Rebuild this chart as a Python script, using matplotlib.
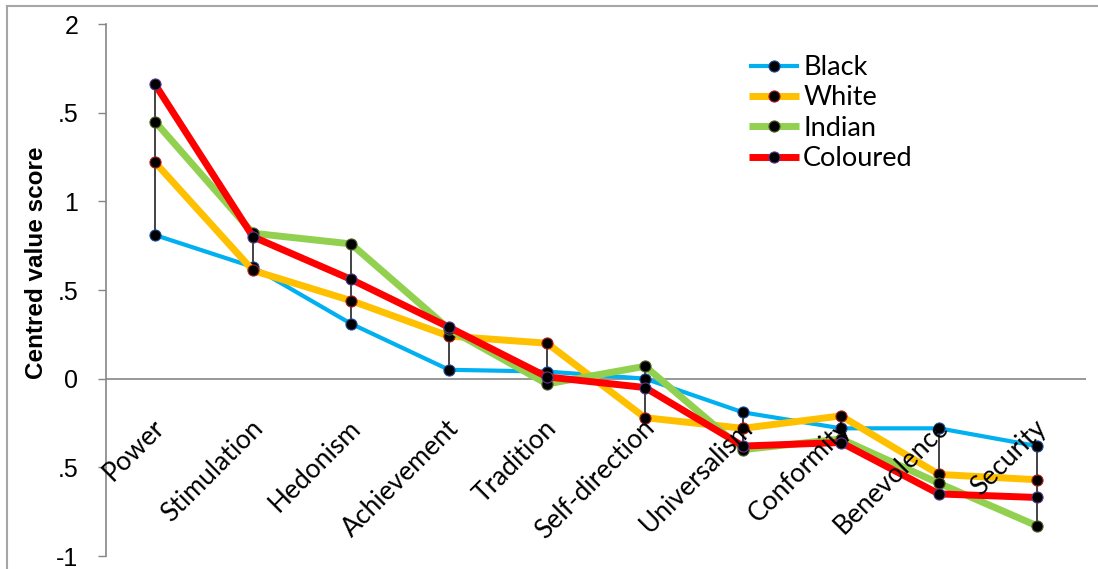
import matplotlib
matplotlib.use("Agg")
import matplotlib.pyplot as plt
from matplotlib.lines import Line2D

categories = ["Power", "Stimulation", "Hedonism", "Achievement", "Tradition",
              "Self-direction", "Universalism", "Conformity", "Benevolence", "Security"]
black = [0.81, 0.63, 0.31, 0.05, 0.04, 0.00, -0.19, -0.28, -0.28, -0.38]
white = [1.22, 0.61, 0.44, 0.24, 0.20, -0.22, -0.28, -0.21, -0.54, -0.57]
indian = [1.45, 0.82, 0.76, 0.28, -0.03, 0.07, -0.40, -0.34, -0.59, -0.83]
coloured = [1.66, 0.80, 0.56, 0.29, 0.01, -0.05, -0.38, -0.36, -0.65, -0.67]
y_ticks = [-1, -0.5, 0, 0.5, 1, 1.5, 2]
y_tick_labels = ["-1", ".5", "0", ".5", "1", ".5", "2"]

W, H = 1098, 569
fig = plt.figure(figsize=(W / 100, H / 100), dpi=100)
ax = fig.add_axes([106 / W, 1 - 556 / H, 980 / W, 532 / H])

x = list(range(len(categories)))
series = [
    ("Black", black, "#00B0F0", "#1F4E9A", 3.0),
    ("White", white, "#FFC000", "#B02020", 5.0),
    ("Indian", indian, "#92D050", "#4F6228", 5.0),
    ("Coloured", coloured, "#FF0000", "#5B3A8C", 5.0),
]

# high-low lines between the extreme groups at each value
lows = [min(v) for v in zip(black, white, indian, coloured)]
highs = [max(v) for v in zip(black, white, indian, coloured)]
ax.vlines(x, lows, highs, colors="#222222", linewidth=1.2, zorder=1.5)

for name, vals, col, edge, lw in series:
    ax.plot(x, vals, color=col, linewidth=lw, marker="o", markersize=8,
            markerfacecolor="black", markeredgecolor=edge, markeredgewidth=0.8,
            label=name, zorder=3, solid_capstyle="butt")

ax.set_xlim(-0.5, 9.5)
ax.set_ylim(-1, 2)
for s in ("top", "right", "bottom"):
    ax.spines[s].set_visible(False)
ax.spines["left"].set_color("#868686")
ax.spines["left"].set_linewidth(1.2)
ax.axhline(0, color="#868686", linewidth=1.2, zorder=1)

ax.set_xticks([])
ax.set_yticks(y_ticks, labels=y_tick_labels)
ax.tick_params(axis="y", direction="out", length=6, width=1.0, color="#868686",
               pad=14, labelsize=18)
for lab in ax.get_yticklabels():
    lab.set_fontfamily("Liberation Sans")

for i, cat in enumerate(categories):
    ax.text(i + 0.06, -0.255, cat, rotation=45, ha="right", va="center",
            rotation_mode="anchor", fontsize=19, family="Lato", zorder=4)

fig.text(37 / W, 1 - 263 / H, "Centred value score", rotation=90, ha="center",
         va="center", fontsize=17.5, fontweight="bold", family="Liberation Sans")

leg = ax.legend(loc="upper left", bbox_to_anchor=(749 / W, 1 - 55 / H),
                bbox_transform=fig.transFigure, frameon=False, borderpad=0,
                borderaxespad=0, handlelength=1.85, handletextpad=0.15,
                labelspacing=0.2, prop={"family": "Lato", "size": 19.5})

# light frame around the chart area
fig.add_artist(Line2D([7 / W, 7 / W], [0, 1 - 6 / H], transform=fig.transFigure,
                      color="#A6A6A6", linewidth=1.5))
fig.add_artist(Line2D([7 / W, 1], [1 - 6 / H, 1 - 6 / H], transform=fig.transFigure,
                      color="#A6A6A6", linewidth=1.5))

fig.savefig("out.png", dpi=100)
